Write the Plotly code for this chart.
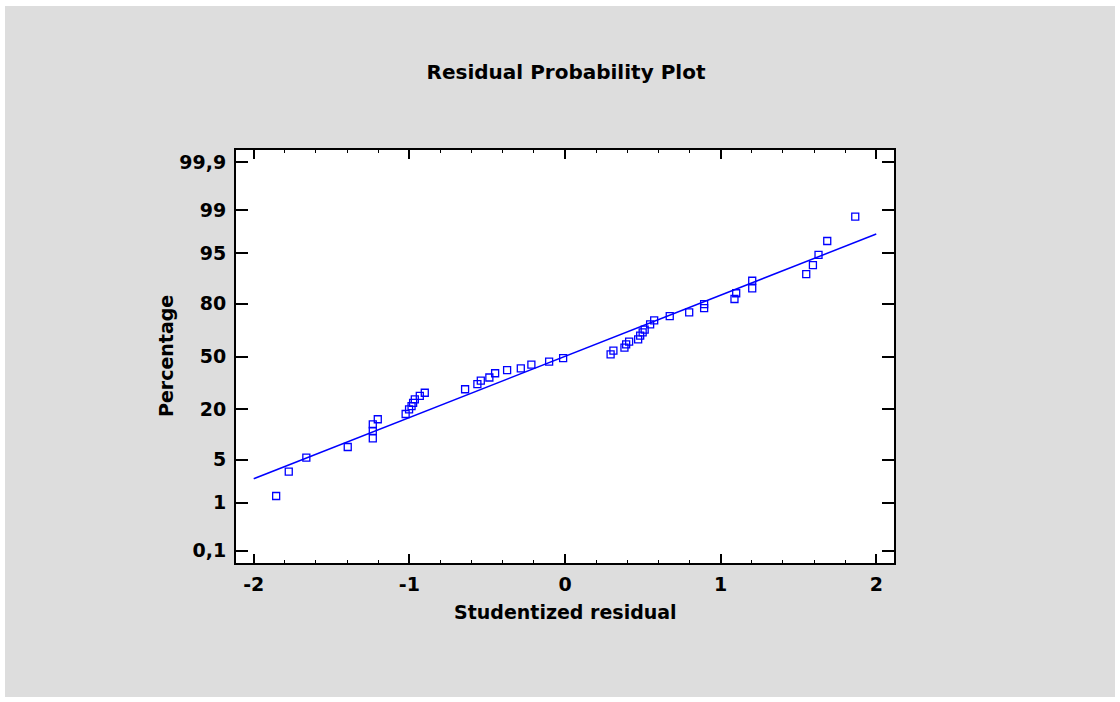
from statistics import NormalDist
import plotly.graph_objects as go

# Studentized residuals (sorted) and their normal plotting positions (%)
residuals = [-1.856, -1.775, -1.662, -1.396, -1.235, -1.235, -1.235, -1.203,
             -1.024, -1.002, -0.986, -0.976, -0.965, -0.933, -0.901,
             -0.642, -0.563, -0.541, -0.486, -0.449, -0.372, -0.284, -0.216,
             -0.102, -0.012,
             0.293, 0.311, 0.382, 0.393, 0.412, 0.470, 0.483, 0.499, 0.512,
             0.547, 0.573, 0.673, 0.798, 0.894, 0.894, 1.089, 1.100, 1.203,
             1.203, 1.550, 1.593, 1.629, 1.685, 1.865]
percentages = [1.32, 3.34, 5.37, 7.49, 9.65, 11.8, 14.0, 15.9,
               18.0, 20.0, 21.5, 23.0, 24.7, 26.5, 28.2,
               30.1, 33.0, 35.0, 36.9, 39.5, 41.4, 42.5, 44.8,
               46.8, 49.0,
               51.4, 53.7, 55.6, 57.6, 59.4, 60.8, 63.0, 64.9, 66.6,
               69.5, 71.7, 74.0, 75.9, 77.9, 79.8, 82.0, 84.3, 86.1,
               88.6, 90.5, 92.7, 94.7, 96.7, 98.7]

# Reference line endpoints
fit_x = [-2.0, 2.0]
fit_pct = [2.59, 97.44]

# Probability-axis ticks
y_tick_pct = [0.1, 1, 5, 20, 50, 80, 95, 99, 99.9]
y_tick_text = ["0,1", "1", "5", "20", "50", "80", "95", "99", "99,9"]
x_tick_vals = [-2, -1, 0, 1, 2]
x_tick_text = ["-2", "-1", "0", "1", "2"]

nd = NormalDist()


def to_z(pcts):
    return [nd.inv_cdf(p / 100.0) for p in pcts]


W, H = 1120, 702
ML, MR, MT, MB = 236, 226, 150, 139
PW, PH = W - ML - MR, H - MT - MB

FONT = "DejaVu Sans"
BLUE = "#0000ff"
BG = "#dddddd"
X_RANGE = [-2.114, 2.114]

fig = go.Figure()

fig.add_trace(go.Scatter(
    x=fit_x, y=to_z(fit_pct), mode="lines",
    line=dict(color=BLUE, width=1.5), hoverinfo="skip", showlegend=False,
))
fig.add_trace(go.Scatter(
    x=residuals, y=to_z(percentages), mode="markers",
    marker=dict(symbol="square-open", size=7, color=BLUE,
                line=dict(color=BLUE, width=1.3)),
    showlegend=False,
))
# invisible carrier so the top tick axis gets drawn
fig.add_trace(go.Scatter(
    x=fit_x, y=to_z(fit_pct), xaxis="x2", mode="lines",
    line=dict(color="rgba(0,0,0,0)", width=0), hoverinfo="skip",
    showlegend=False,
))


def px_to_paper_x(px):
    return (px - ML) / PW


def px_to_paper_y(py):
    return (H - MB - py) / PH


# grey panel behind everything, leaving a thin white border
fig.add_shape(type="rect", xref="paper", yref="paper", layer="below",
              x0=px_to_paper_x(5), x1=px_to_paper_x(W - 5),
              y0=px_to_paper_y(H - 5), y1=px_to_paper_y(6),
              fillcolor=BG, line=dict(width=0))
# white plotting area
fig.add_shape(type="rect", xref="paper", yref="paper", layer="below",
              x0=0, x1=1, y0=0, y1=1, fillcolor="white", line=dict(width=0))

fig.add_annotation(text="<b>Studentized residual</b>", xref="paper", yref="paper",
                   x=px_to_paper_x(565), y=px_to_paper_y(612),
                   xanchor="center", yanchor="middle", showarrow=False,
                   font=dict(family=FONT, size=19, color="black"))
fig.add_annotation(text="<b>Percentage</b>", xref="paper", yref="paper",
                   x=px_to_paper_x(166), y=px_to_paper_y(356),
                   xanchor="center", yanchor="middle", showarrow=False,
                   textangle=-90,
                   font=dict(family=FONT, size=19, color="black"))

tickfont = dict(family=FONT, size=19, color="black", weight="bold")
minor_ticks = dict(dtick=0.2, tick0=0, ticks="inside", ticklen=3,
                   tickwidth=1, tickcolor="black", showgrid=False)

fig.update_layout(
    width=W, height=H,
    margin=dict(l=ML, r=MR, t=MT, b=MB, pad=0),
    paper_bgcolor="white",
    plot_bgcolor="rgba(0,0,0,0)",
    title=dict(text="<b>Residual Probability Plot</b>", x=px_to_paper_x(566),
               xref="paper", xanchor="center", y=1 - 72 / H, yref="container",
               yanchor="middle",
               font=dict(family=FONT, size=20, color="black")),
    xaxis=dict(
        range=X_RANGE, tickvals=x_tick_vals, ticktext=x_tick_text,
        ticks="inside", ticklen=9, tickwidth=1.5, tickcolor="black",
        minor=minor_ticks,
        showline=True, linewidth=2, linecolor="black", mirror=True,
        showgrid=False, zeroline=False, tickfont=tickfont,
        ticklabelstandoff=3,
    ),
    xaxis2=dict(
        overlaying="x", side="top", range=X_RANGE, tickvals=x_tick_vals,
        ticks="inside", ticklen=9, tickwidth=1.5, tickcolor="black",
        minor=minor_ticks, showticklabels=False,
        showline=False, showgrid=False, zeroline=False,
    ),
    yaxis=dict(
        range=[-3.287, 3.287], tickvals=to_z(y_tick_pct), ticktext=y_tick_text,
        ticks="inside", ticklen=12, tickwidth=1.5, tickcolor="black",
        showline=True, linewidth=2, linecolor="black", mirror="ticks",
        showgrid=False, zeroline=False, tickfont=tickfont,
        ticklabelstandoff=4,
    ),
)

fig.write_html("out.html")
